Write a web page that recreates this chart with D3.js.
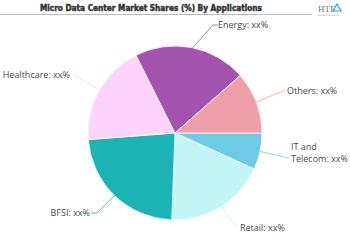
<!DOCTYPE html>
<html>
<head>
<meta charset="utf-8">
<script src="https://cdn.jsdelivr.net/npm/d3@7"></script>
<style>
html,body{margin:0;padding:0;background:#fff;}
svg{display:block;}
</style>
</head>
<body>
<svg id="chart" width="350" height="250"></svg>
<script>
const title = "Micro Data Center Market Shares (%) By Applications";
const categories = ["IT and Telecom", "Retail", "BFSI", "Healthcare", "Energy", "Others"];
const values = [6.8, 18.8, 23.2, 18.8, 20.9, 11.5];
const valueLabels = ["xx%", "xx%", "xx%", "xx%", "xx%", "xx%"];
const colors = ["#6ecbe6", "#c3f4f6", "#1bb3b3", "#fbd3fb", "#a352ae", "#ef9fa8"];

const svg = d3.select("#chart");
const cx = 175, cy = 133, r = 87;

// title
svg.append("text").attr("x", 151).attr("y", 10.5).attr("text-anchor", "middle")
  .attr("font-family", "DejaVu Sans Condensed, DejaVu Sans").attr("font-weight", "bold")
  .attr("font-size", 8.8).attr("fill", "#333").attr("stroke", "#333").attr("stroke-width", 0.45)
  .attr("textLength", 222).attr("lengthAdjust", "spacingAndGlyphs").text(title);
svg.append("line").attr("x1", 0).attr("x2", 312).attr("y1", 14.5).attr("y2", 14.5)
  .attr("stroke", "#bdbdbd").attr("stroke-width", 1);

// logo
svg.append("text").attr("x", 318).attr("y", 12).attr("font-family", "Liberation Serif")
  .attr("font-size", 9).attr("fill", "#7a7a7a").text("HTF");
svg.append("path").attr("d", "M333,11 L337,4 L341,11 Z").attr("fill", "none")
  .attr("stroke", "#3a9fd8").attr("stroke-width", 1.2);
svg.append("text").attr("x", 318).attr("y", 15.5).attr("font-family", "DejaVu Sans")
  .attr("font-size", 2.2).attr("fill", "#999").text("Market Intelligence");

const pie = d3.pie().sort(null).value(d => d)
  .startAngle(Math.PI / 2).endAngle(Math.PI / 2 + 2 * Math.PI);
const arcs = pie(values);
const arc = d3.arc().innerRadius(0).outerRadius(r);

const g = svg.append("g").attr("transform", `translate(${cx},${cy})`);
g.selectAll("path.slice").data(arcs).enter().append("path")
  .attr("class", "slice").attr("d", arc)
  .attr("fill", (d, i) => colors[i]).attr("stroke", "#fff").attr("stroke-width", 0.8);

// label layout (positions of text anchor points)
const labelPos = [
  {x: 291, y: 150, anchor: "start", lines: ["IT and", "Telecom: " + valueLabels[0]], lx: 289, ly: 158, elbow: null},
  {x: 240, y: 231, anchor: "start", lines: ["Retail: " + valueLabels[1]], lx: 238, ly: 229, elbow: null},
  {x: 90, y: 216, anchor: "end", lines: ["BFSI: " + valueLabels[2]], lx: 91, ly: 213, elbow: [97, 213]},
  {x: 70, y: 78, anchor: "end", lines: ["Healthcare: " + valueLabels[3]], lx: 73, ly: 74, elbow: null},
  {x: 218, y: 28, anchor: "start", lines: ["Energy: " + valueLabels[4]], lx: 218, ly: 25, elbow: [213, 25]},
  {x: 287, y: 94, anchor: "start", lines: ["Others: " + valueLabels[5]], lx: 285, ly: 90, elbow: null}
];

const lineArc = d3.arc().innerRadius(r - 2).outerRadius(r - 2);
arcs.forEach((a, i) => {
  const p = labelPos[i];
  const c = lineArc.centroid(a);
  const pts = [[cx + c[0], cy + c[1]]];
  if (p.elbow) pts.push(p.elbow);
  pts.push([p.lx, p.ly]);
  svg.append("path").attr("d", d3.line()(pts)).attr("fill", "none")
    .attr("stroke", colors[i]).attr("stroke-width", 0.8);
  const t = svg.append("text").attr("x", p.x).attr("y", p.y)
    .attr("text-anchor", p.anchor).attr("font-family", "Open Sans")
    .attr("font-size", 9).attr("fill", "#4a4a4a");
  p.lines.forEach((ln, k) => {
    t.append("tspan").attr("x", p.x).attr("dy", k === 0 ? 0 : 12).text(ln);
  });
});
</script>
</body>
</html>
